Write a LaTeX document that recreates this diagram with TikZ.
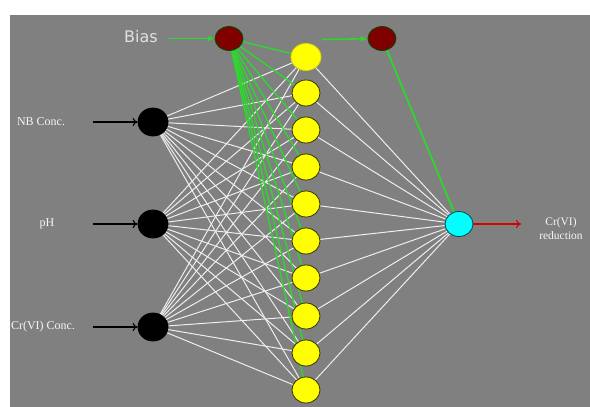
\documentclass[tikz,border=0pt]{standalone}
\usepackage{fontspec}
\setmainfont{Liberation Serif}
\newfontfamily\biasfont{DejaVu Sans}
\usetikzlibrary{arrows.meta,shapes.geometric}
\pgfdeclarelayer{bg}
\pgfdeclarelayer{paper}
\pgfsetlayers{paper,bg,main}
\definecolor{bggray}{RGB}{128,128,128}
\definecolor{gline}{RGB}{45,215,45}
\definecolor{wline}{RGB}{238,238,238}
\definecolor{darkred}{RGB}{128,0,0}
\definecolor{txt}{RGB}{245,245,245}
\definecolor{biastxt}{RGB}{225,225,225}
\definecolor{aqua}{RGB}{0,255,255}
\definecolor{yel}{RGB}{255,255,0}
\tikzset{
  neuron/.style={ellipse,inner sep=0pt,minimum width=28pt,minimum height=26pt,line width=0.8pt},
  inp/.style={neuron,fill=black,draw=black,minimum width=30pt,minimum height=28pt},
  hid/.style={neuron,fill=yel,draw=black!80!yel},
  tophid/.style={neuron,fill=yel,draw=yel!85!black,minimum width=30pt,minimum height=27pt},
  biasn/.style={neuron,fill=darkred,draw=black!70!green,minimum height=24pt},
  outn/.style={neuron,fill=aqua,draw=black!70!aqua,minimum height=25pt},
  wedge/.style={draw=wline,line width=1pt},
  gedge/.style={draw=gline,line width=1.4pt},
  garrow/.style={draw=gline,line width=1.6pt,-{Latex[length=7pt,width=6pt]}},
  barrow/.style={draw=black,line width=1.1pt,-{To[length=5pt,width=8pt]}},
  rarrow/.style={draw=red!85!black,line width=1.1pt,-{To[length=5pt,width=8pt]}},
  lbl/.style={text=txt,font=\fontsize{12}{13}\selectfont,inner sep=0pt,align=center},
}
\begin{document}
\begin{tikzpicture}[x=1pt,y=-1pt]
\useasboundingbox (0,0) rectangle (590,407);
\begin{pgfonlayer}{paper}
\fill[white] (0,0) rectangle (590,407);
\fill[bggray] (10,15) rectangle (590,407);
\end{pgfonlayer}

% input layer
\node[inp] (i1) at (153,122) {};
\node[inp] (i2) at (153,224) {};
\node[inp] (i3) at (153,327) {};
\node[lbl] (l1) at (41,122) {NB Conc.};
\node[lbl] (l2) at (47,224) {pH};
\node[lbl] (l3) at (43,327) {Cr(VI) Conc.};

% hidden layer
\node[tophid] (h1) at (306,57) {};
\foreach \k/\y in {2/93,3/130,4/167,5/204,6/241,7/278,8/316,9/353,10/390}
  \node[hid] (h\k) at (306,\y) {};

% bias nodes
\node[biasn] (b1) at (229,38.5) {};
\node[biasn] (b2) at (382,38.5) {};
\node[text=biastxt,font=\biasfont\fontsize{16}{17}\selectfont,inner sep=0pt] (bt) at (141,37) {Bias};

% output
\node[outn] (o) at (459,224) {};
\node[lbl,font=\fontsize{11.5}{13.3}\selectfont] (ol) at (561,228.5) {Cr(VI)\\reduction};

% free ends
\coordinate (ba) at (168,38.5);
\coordinate (ha) at (322,39.5);
\coordinate (a1) at (93,122);
\coordinate (a2) at (93,224);
\coordinate (a3) at (93,327);
\coordinate (oe) at (521,224);

\begin{pgfonlayer}{bg}
  \foreach \i in {1,2,3}
    \foreach \k in {1,...,10}
      \draw[wedge] (i\i) -- (h\k);
  \foreach \k in {1,...,10}
    \draw[wedge] (h\k) -- (o);
  \foreach \k in {1,...,10}
    \draw[gedge] (b1) -- (h\k);
  \draw[gedge,line width=1.8pt] (b2) -- (o);
\end{pgfonlayer}

\draw[garrow] (ba) -- (b1);
\draw[garrow] (ha) -- (b2);
\draw[barrow] (a1) -- (i1);
\draw[barrow] (a2) -- (i2);
\draw[barrow] (a3) -- (i3);
\draw[rarrow] (o) -- (oe);
\end{tikzpicture}
\end{document}
